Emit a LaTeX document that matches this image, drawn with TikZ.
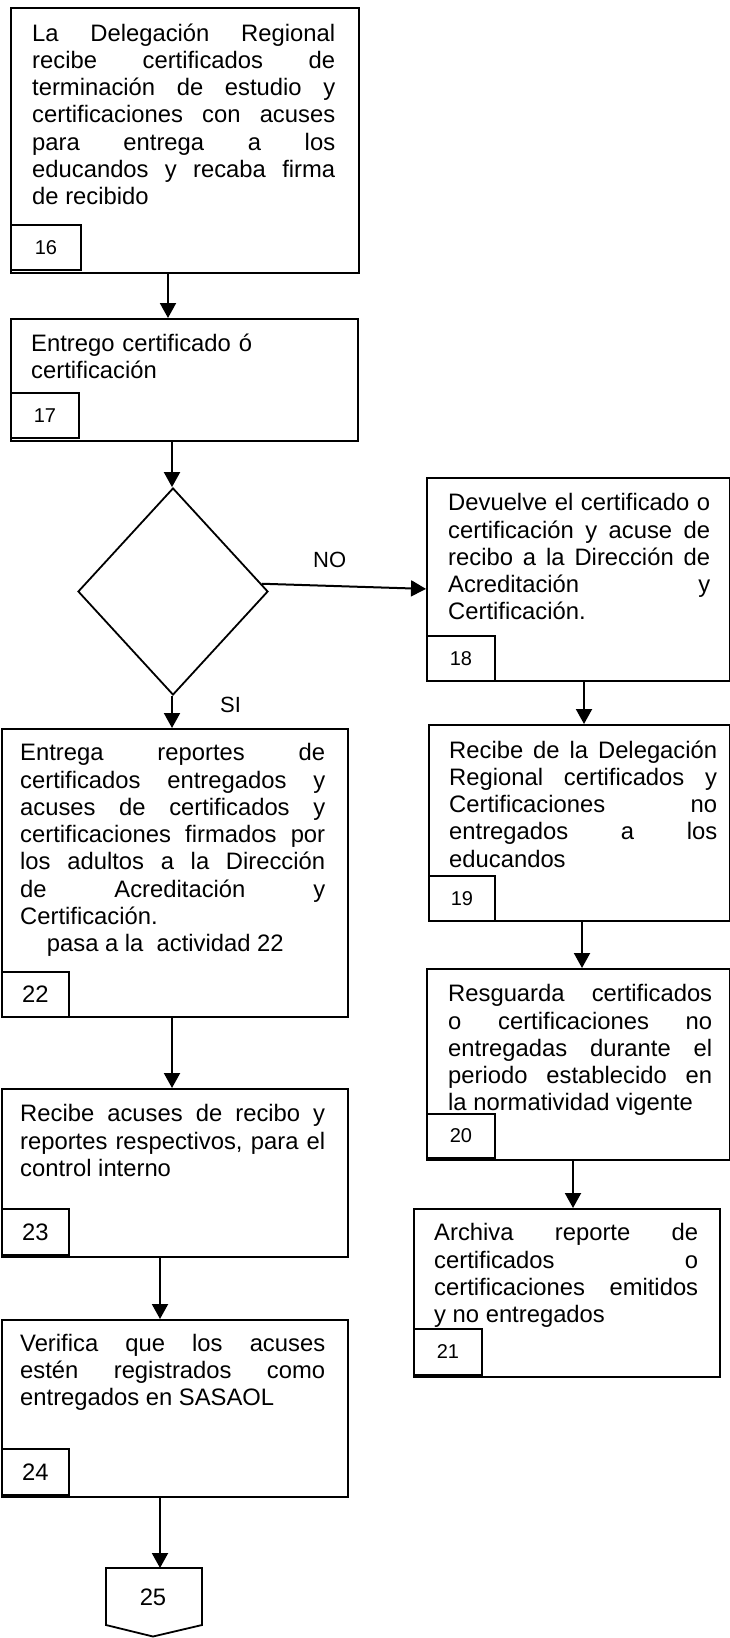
\documentclass[tikz,border=0pt]{standalone}
\usepackage{fontspec}
\setmainfont{Liberation Sans}
\usetikzlibrary{arrows.meta,shapes.geometric}
\hyphenpenalty=10000
\exhyphenpenalty=10000
\tolerance=10000
\newcommand\bodyfs{\fontsize{23.8pt}{27.3pt}\selectfont}
\newcommand\smallfs{\fontsize{20pt}{24pt}\selectfont}
\newcommand\yesnofs{\fontsize{22pt}{26pt}\selectfont}
\tikzset{
  procbox/.style={draw, line width=1.8pt, rectangle, inner sep=0pt, anchor=north west},
  numbox/.style={draw, line width=1.8pt, rectangle, inner sep=0pt, anchor=north west, minimum width=68pt, minimum height=45pt},
  bodytxt/.style={inner sep=0pt, anchor=base west, align=justify, font=\bodyfs},
  arr/.style={draw, line width=2pt, -{Triangle[length=15pt,width=16pt]}},
}
\begin{document}
\begin{tikzpicture}[x=1pt,y=-1pt]
\useasboundingbox (0,0) rectangle (730,1638);
\fill[white] (0,0) rectangle (730,1638);
% ---- left column boxes
\node[procbox, minimum width=348pt, minimum height=265pt] (b16) at (10,7) {};
\node[numbox, minimum width=70pt, font=\smallfs] (l16) at (10,224) {16};
\node[bodytxt, text width=303pt] (t16) at (32,41) {La Delegación Regional\linebreak recibe certificados de\linebreak terminación de estudio y\linebreak certificaciones con acuses\linebreak para entrega a los\linebreak educandos y recaba firma\linebreak de recibido};

\node[procbox, minimum width=347pt, minimum height=122pt] (b17) at (10,318) {};
\node[numbox, font=\smallfs] (l17) at (10,392) {17};
\node[bodytxt, text width=303pt, align=left] (t17) at (31,351) {Entrego certificado ó\\certificación};

\node[draw, diamond, line width=1.8pt, inner sep=0pt, minimum width=190pt, minimum height=207pt] (dia) at (173,591.5) {};

\node[procbox, minimum width=346pt, minimum height=288pt] (b22) at (1,728) {};
\node[numbox, minimum width=67pt, font=\bodyfs] (l22) at (1,971) {22};
\node[bodytxt, text width=305pt] (t22) at (20,760.7) {Entrega reportes de\linebreak certificados entregados y\linebreak acuses de certificados y\linebreak certificaciones firmados por\linebreak los adultos a la Dirección\linebreak de Acreditación y\linebreak Certificación.\\\hspace*{26.7pt}pasa a la\ \ actividad 22};

\node[procbox, minimum width=346pt, minimum height=168pt] (b23) at (1,1088) {};
\node[numbox, minimum width=67pt, minimum height=46pt, font=\bodyfs] (l23) at (1,1208) {23};
\node[bodytxt, text width=305pt] (t23) at (20,1121.7) {Recibe acuses de recibo y\linebreak reportes respectivos, para el\linebreak control interno};

\node[procbox, minimum width=346pt, minimum height=177pt] (b24) at (1,1319) {};
\node[numbox, minimum width=67pt, minimum height=46pt, font=\bodyfs] (l24) at (1,1448) {24};
\node[bodytxt, text width=305pt] (t24) at (20,1351) {Verifica que los acuses\linebreak estén registrados como\linebreak entregados en SASAOL};

% off-page connector 25
\coordinate (p25a) at (106,1568);
\coordinate (p25b) at (202,1568);
\coordinate (p25c) at (202,1625);
\coordinate (p25d) at (153,1636.5);
\coordinate (p25e) at (106,1625);
\draw[line width=1.8pt, line join=miter] (p25a) -- (p25b) -- (p25c) -- (p25d) -- (p25e) -- cycle;
\node[inner sep=0pt, font=\bodyfs] (t25) at (153,1597) {25};

% ---- right column boxes
\node[procbox, minimum width=303pt, minimum height=203pt] (b18) at (426,477) {};
\node[numbox, font=\smallfs] (l18) at (426,635) {18};
\node[bodytxt, text width=262pt] (t18) at (448,510.7) {Devuelve el certificado o\linebreak certificación y acuse de\linebreak recibo a la Dirección de\linebreak Acreditación y\linebreak Certificación.};

\node[procbox, minimum width=301pt, minimum height=196pt] (b19) at (428,724) {};
\node[numbox, minimum width=66pt, font=\smallfs] (l19) at (428,875) {19};
\node[bodytxt, text width=268pt] (t19) at (449,758) {Recibe de la Delegación\linebreak Regional certificados y\linebreak Certificaciones no\linebreak entregados a los\linebreak educandos};

\node[procbox, minimum width=303pt, minimum height=191pt] (b20) at (426,968) {};
\node[numbox, minimum height=44pt, font=\smallfs] (l20) at (426,1113) {20};
\node[bodytxt, text width=264pt] (t20) at (448,1001.7) {Resguarda certificados\linebreak o certificaciones no\linebreak entregadas durante el\linebreak periodo establecido en\linebreak la normatividad vigente};

\node[procbox, minimum width=306pt, minimum height=168pt] (b21) at (413,1208) {};
\node[numbox, minimum height=46pt, font=\smallfs] (l21) at (413,1328) {21};
\node[bodytxt, text width=264pt] (t21) at (434,1240.7) {Archiva reporte de\linebreak certificados o\linebreak certificaciones emitidos\linebreak y no entregados};

% ---- connectors
\coordinate (x168) at (168,0);
\coordinate (x172) at (172,0);
\coordinate (x160) at (160,0);
\coordinate (x584) at (584,0);
\coordinate (x582) at (582,0);
\coordinate (x573) at (573,0);
\draw[arr] (b16.south -| x168) -- (b17.north -| x168);
\draw[arr] (b17.south -| x172) -- (dia.north -| x172);
\draw[arr] (dia.south -| x172) -- (b22.north -| x172);
\draw[arr] (b22.south -| x172) -- (b23.north -| x172);
\draw[arr] (b23.south -| x160) -- (b24.north -| x160);
\draw[arr] (b24.south -| x160) -- (p25a -| x160);
\coordinate (e18) at ([yshift=-9.5pt]b18.west);
\draw[arr] (dia.5) -- (e18);
\draw[arr] (b18.south -| x584) -- (b19.north -| x584);
\draw[arr] (b19.south -| x582) -- (b20.north -| x582);
\draw[arr] (b20.south -| x573) -- (b21.north -| x573);

\node[inner sep=0pt, anchor=base west, font=\yesnofs] (no) at (313,567) {NO};
\node[inner sep=0pt, anchor=base west, font=\yesnofs] (si) at (220,712) {SI};
\end{tikzpicture}
\end{document}
